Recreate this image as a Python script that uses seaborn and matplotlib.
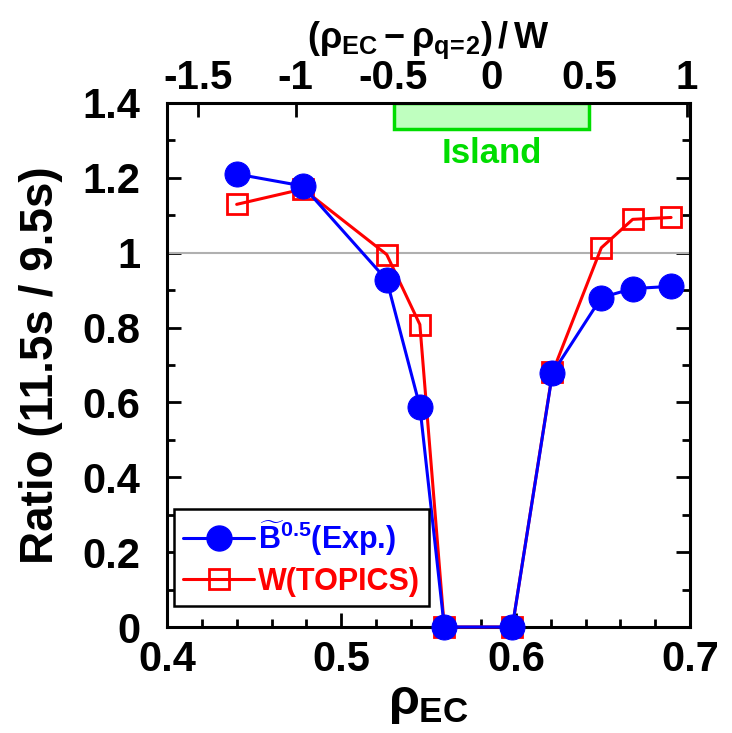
import numpy as np
import pandas as pd
import matplotlib
matplotlib.use("Agg")
import matplotlib.pyplot as plt
import seaborn as sns
from matplotlib.patches import Rectangle
from matplotlib.lines import Line2D
from matplotlib.ticker import MultipleLocator

# datos
rho_ec = [0.440, 0.478, 0.526, 0.545, 0.559, 0.598, 0.621, 0.649, 0.667, 0.689]
ratio_exp = [1.21, 1.178, 0.927, 0.589, 0.0, 0.0, 0.678, 0.880, 0.904, 0.910]
ratio_topics = [1.129, 1.170, 0.995, 0.808, 0.0, 0.0, 0.680, 1.013, 1.089, 1.094]
top_ticks = [-1.5, -1, -0.5, 0, 0.5, 1]
top_ticklabels = ["-1.5", "-1", "-0.5", "0", "0.5", "1"]
rho_q2 = 0.586
width_w = 0.1122
island = [-0.5, 0.5]

sns.set_style("ticks")
plt.rcParams["font.family"] = ["Liberation Sans", "DejaVu Sans"]
plt.rcParams["font.weight"] = "bold"
plt.rcParams["mathtext.fontset"] = "custom"
plt.rcParams["mathtext.rm"] = "Liberation Sans"
plt.rcParams["mathtext.it"] = "Liberation Sans"
plt.rcParams["mathtext.bf"] = "Liberation Sans:bold"
for k in ["text.color", "axes.labelcolor", "xtick.color", "ytick.color", "axes.edgecolor"]:
    plt.rcParams[k] = "black"

df = pd.DataFrame({"rho": rho_ec, "exp": ratio_exp, "topics": ratio_topics})

fig = plt.figure(figsize=(7.32, 7.33), dpi=100)
ax = fig.add_axes([0.228, 0.1446, 0.715, 0.715])

ax.axhline(1.0, color="#b0b0b0", lw=1.5, zorder=1)

sns.lineplot(data=df, x="rho", y="topics", ax=ax, sort=False, color="#ff0000",
             lw=2.2, marker="s", markersize=15, markerfacecolor="none",
             markeredgecolor="#ff0000", markeredgewidth=2.0, zorder=3, clip_on=False)
sns.lineplot(data=df, x="rho", y="exp", ax=ax, sort=False, color="#0000ff",
             lw=2.2, marker="o", markersize=18, markerfacecolor="#0000ff",
             markeredgecolor="#0000ff", zorder=4, clip_on=False)

ax.set_xlim(0.4, 0.7)
ax.set_ylim(0, 1.4)
ax.xaxis.set_minor_locator(MultipleLocator(0.02))
ax.yaxis.set_minor_locator(MultipleLocator(0.1))
ax.set_xticks([0.4, 0.5, 0.6, 0.7])
ax.set_xticklabels(["0.4", "0.5", "0.6", "0.7"])
ax.set_yticks([0, 0.2, 0.4, 0.6, 0.8, 1.0, 1.2, 1.4])
ax.set_yticklabels(["0", "0.2", "0.4", "0.6", "0.8", "1", "1.2", "1.4"])
ax.tick_params(axis="x", which="both", direction="in", top=False, bottom=True,
               labelsize=30, pad=9, width=2)
ax.tick_params(axis="y", which="both", direction="in", left=True, right=True,
               labelsize=30, pad=19, width=2)
ax.tick_params(which="major", length=10)
ax.tick_params(which="minor", length=6)
for s in ax.spines.values():
    s.set_linewidth(2.2)
    s.set_visible(True)

ax.set_xlabel(r"$\rho_{\mathbf{EC}}$", fontsize=36, labelpad=0)
ax.set_ylabel("Ratio (11.5s / 9.5s)", fontsize=33, fontweight="bold", labelpad=14)

# eje superior
top = ax.secondary_xaxis("top", functions=(lambda r: (r - rho_q2) / width_w,
                                           lambda t: rho_q2 + t * width_w))
top.set_xticks(top_ticks)
top.set_xticklabels(top_ticklabels)
top.tick_params(direction="in", length=10, width=2, labelsize=29, pad=4)
top.set_xlabel(r"$(\rho_{\mathbf{EC}}-\rho_{\mathbf{q}\!\mathbf{=}\!\mathbf{2}})\,/\,\mathbf{W}$",
               fontsize=26, labelpad=8)

# isla
x0 = rho_q2 + island[0] * width_w
x1 = rho_q2 + island[1] * width_w
ax.add_patch(Rectangle((x0, 1.33), x1 - x0, 0.07, facecolor="#bfffbf",
                       edgecolor="#00dd00", lw=2.5, zorder=2))
ax.text((x0 + x1) / 2, 1.265, "Island", color="#00dd00", fontsize=25,
        fontweight="bold", ha="center", va="center")

h_exp = Line2D([], [], color="#0000ff", lw=2.2, marker="o", markersize=18)
h_top = Line2D([], [], color="#ff0000", lw=2.2, marker="s", markersize=15,
               markerfacecolor="none", markeredgewidth=2.0)
leg = ax.legend([h_exp, h_top],
                [r"$\widetilde{\mathbf{B}}^{\mathbf{0.5}}$(Exp.)", "W(TOPICS)"],
                loc="lower left", bbox_to_anchor=(0.014, 0.04), borderaxespad=0,
                fontsize=22, labelcolor="linecolor", frameon=True, fancybox=False,
                edgecolor="black", framealpha=1, handlelength=2.3,
                handletextpad=0.15, borderpad=0.3, labelspacing=0.3)
leg.get_frame().set_linewidth(1.8)

fig.savefig("out.png", dpi=100)
